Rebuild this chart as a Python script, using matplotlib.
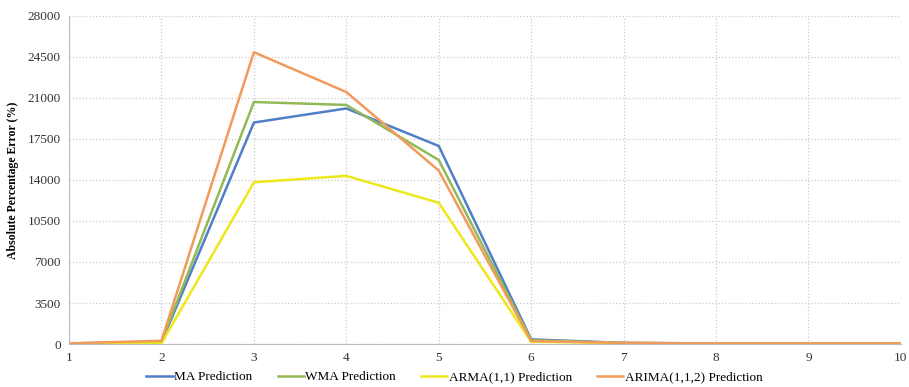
import matplotlib.pyplot as plt

x = [1, 2, 3, 4, 5, 6, 7, 8, 9, 10]
ma = [50, 150, 18900, 20100, 16900, 400, 100, 50, 50, 50]
wma = [50, 180, 20650, 20400, 15700, 330, 90, 50, 50, 50]
arma = [30, 60, 13800, 14350, 12050, 200, 80, 40, 40, 40]
arima = [60, 280, 24900, 21500, 14800, 260, 100, 50, 50, 50]

series = [
    ("MA Prediction", ma, "#4F7FC7"),
    ("WMA Prediction", wma, "#93B956"),
    ("ARMA(1,1) Prediction", arma, "#EDE81A"),
    ("ARIMA(1,1,2) Prediction", arima, "#F19A5A"),
]

plt.rcParams["font.family"] = ["Liberation Serif", "DejaVu Serif"]

fig = plt.figure(figsize=(9.09, 3.87), dpi=100)
ax = fig.add_axes([0.076, 0.111, 0.915, 0.848])

for label, vals, color in series:
    ax.plot(x, vals, color=color, lw=1.8, label=label)

ax.set_xlim(1, 10)
ax.set_ylim(0, 28000)
ax.set_xticks(x)
ax.set_yticks([0, 3500, 7000, 10500, 14000, 17500, 21000, 24500, 28000])
ax.tick_params(length=0, labelsize=9.5, colors="#333333", pad=6)
ax.grid(True, color="#cccccc", linestyle=":", lw=0.9)
for s in ["top", "right"]:
    ax.spines[s].set_visible(False)
for s in ["left", "bottom"]:
    ax.spines[s].set_color("#bbbbbb")
ax.set_ylabel("Absolute Percentage Error (%)", fontsize=8.5, fontweight="bold", labelpad=6)

fig.legend(loc="center", bbox_to_anchor=(0.5, 0.025), ncol=4, frameon=False,
           fontsize=9.5, handlelength=2.0, handletextpad=0.1, columnspacing=1.9)

fig.savefig("out.png", dpi=100)
